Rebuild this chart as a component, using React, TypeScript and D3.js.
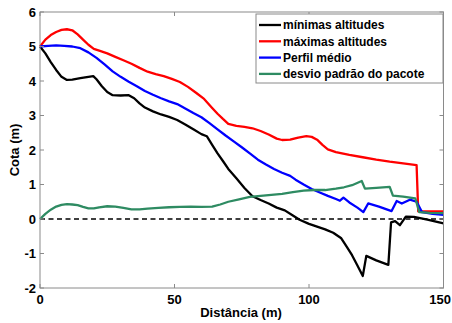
import React from "react";
import * as d3 from "d3";

const xTicks = [0, 50, 100, 150];
const yTicks = [-2, -1, 0, 1, 2, 3, 4, 5, 6];

const minX = [0,2,4,6,8,10,12,15,18,19.8,21,23,25,27,30,33,35,37,39,42,45,48,51,54,57,60,62,64,66,68,70,73,76,79,82,85,88,91,94,96.5,100,103,106,109,112,114,116,118,120,121.3,125,129.5,130.5,132,133.8,136,139,144,150];
const minY = [5.0,4.8,4.55,4.32,4.12,4.03,4.04,4.08,4.12,4.14,4.05,3.85,3.68,3.59,3.58,3.59,3.5,3.35,3.23,3.12,3.03,2.96,2.87,2.74,2.6,2.46,2.4,2.15,1.9,1.68,1.45,1.18,0.9,0.66,0.55,0.45,0.33,0.25,0.1,-0.02,-0.14,-0.22,-0.3,-0.4,-0.56,-0.8,-1.05,-1.35,-1.65,-1.07,-1.2,-1.33,-0.1,-0.06,-0.18,0.07,0.06,-0.02,-0.13];

const maxX = [0,2,4,6,8,10,12,14,16,18,20,22,25,28,31,34,37,40,43,46,49,52,55,58,61,64,66,68,70,73,76,79,82,85,88,90,93,96,99,101,103,105,107,110,115,120,125,130,135,140,140.6,150];
const maxY = [5.0,5.2,5.33,5.42,5.48,5.5,5.47,5.35,5.2,5.05,4.93,4.88,4.8,4.7,4.6,4.5,4.38,4.27,4.2,4.14,4.06,3.97,3.83,3.66,3.48,3.22,3.05,2.9,2.76,2.7,2.67,2.63,2.55,2.45,2.33,2.29,2.3,2.36,2.4,2.38,2.3,2.15,2.02,1.94,1.86,1.79,1.72,1.66,1.61,1.56,0.22,0.22];

const meanX = [0,3,6,9,12,15,18,21,24,27,30,33,36,39,42,45,48,51,54,57,60,63,66,69,72,75,78,81,84,87,90,93,95,98,101,104,107,110,111.5,112.8,115,118,120.2,122,126,130.7,132.6,134.5,137.5,140,142,146,150];
const meanY = [5.0,5.02,5.03,5.02,5.0,4.95,4.83,4.67,4.48,4.28,4.12,3.98,3.85,3.71,3.6,3.5,3.41,3.33,3.2,3.07,2.95,2.78,2.6,2.42,2.25,2.08,1.9,1.72,1.58,1.45,1.34,1.25,1.14,1.0,0.87,0.77,0.67,0.58,0.53,0.62,0.48,0.33,0.2,0.45,0.36,0.23,0.52,0.45,0.56,0.5,0.2,0.15,0.12];

const sdX = [0,2,4,6,8,10,12,14,16,18,20,22,25,28,31,34,37,40,44,48,52,56,60,64,67,70,74,78,82,86,90,94,98,102,106,110,113,116,119.6,120.8,125,130,131.2,135,139.5,141,145,150];
const sdY = [0,0.15,0.27,0.36,0.41,0.43,0.42,0.4,0.35,0.31,0.31,0.34,0.37,0.36,0.32,0.28,0.28,0.3,0.32,0.34,0.35,0.36,0.35,0.36,0.42,0.5,0.57,0.64,0.67,0.7,0.73,0.78,0.82,0.84,0.84,0.88,0.92,0.98,1.1,0.88,0.9,0.93,0.68,0.65,0.6,0.2,0.18,0.17];

const seriesNames = ["mínimas altitudes", "máximas altitudes", "Perfil médio", "desvio padrão do pacote"];
const seriesColors = ["#000000", "#ff0000", "#0000ff", "#2e8b62"];

export default function App() {
  const L = 40, R = 443.5, T = 12, B = 288;
  const x = d3.scaleLinear().domain([0, 150]).range([L, R]);
  const y = d3.scaleLinear().domain([-2, 6]).range([B, T]);
  const line = d3.line<[number, number]>().x(d => x(d[0])).y(d => y(d[1]));
  const zip = (a: number[], b: number[]) => a.map((v, i) => [v, b[i]] as [number, number]);
  const series = [zip(minX, minY), zip(maxX, maxY), zip(meanX, meanY), zip(sdX, sdY)];
  const font = "Liberation Sans, Arial, sans-serif";
  const axisColor = "#8a8a8a";
  const legX = 256, legY = 14, legW = 187, legH = 69;
  return (
    <svg width={452} height={323} style={{ position: "absolute", left: 0, top: 0, background: "#fff" }} fontFamily={font}>
      <rect x={0} y={0} width={452} height={323} fill="#fff" />
      <line x1={x(0)} x2={x(150)} y1={y(0)} y2={y(0)} stroke="#000" strokeWidth={1.6} strokeDasharray="5,3.5" />
      {series.map((s, i) => (
        <path key={i} d={line(s) || ""} fill="none" stroke={seriesColors[i]} strokeWidth={2.3} strokeLinejoin="round" />
      ))}
      <rect x={L} y={T} width={R - L} height={B - T} fill="none" stroke={axisColor} strokeWidth={1} />
      {xTicks.map((t, i) => {
        const last = i === xTicks.length - 1;
        return (
          <g key={"x" + t}>
            <line x1={x(t)} x2={x(t)} y1={B} y2={B - 4} stroke={axisColor} />
            <line x1={x(t)} x2={x(t)} y1={T} y2={T + 4} stroke={axisColor} />
            <text x={last ? 451 : x(t)} y={304} textAnchor={last ? "end" : "middle"} fontSize={13} fontWeight="bold">{t}</text>
          </g>
        );
      })}
      {yTicks.map(t => (
        <g key={"y" + t}>
          <line x1={L} x2={L + 4} y1={y(t)} y2={y(t)} stroke={axisColor} />
          <line x1={R} x2={R - 4} y1={y(t)} y2={y(t)} stroke={axisColor} />
          <text x={36} y={y(t) + 4.5} textAnchor="end" fontSize={13} fontWeight="bold">{t}</text>
        </g>
      ))}
      <text x={241} y={317} textAnchor="middle" fontSize={13} fontWeight="bold">Distância (m)</text>
      <text transform={`translate(19,150) rotate(-90)`} textAnchor="middle" fontSize={13} fontWeight="bold">Cota (m)</text>
      <rect x={legX} y={legY} width={legW} height={legH} fill="#fff" stroke={axisColor} strokeWidth={1} />
      {seriesNames.map((n, i) => {
        const ly = 25 + i * 16.3;
        return (
          <g key={n}>
            <line x1={259} x2={281} y1={ly} y2={ly} stroke={seriesColors[i]} strokeWidth={2.3} />
            <text x={283} y={ly + 4.3} fontSize={12} fontWeight="bold">{n}</text>
          </g>
        );
      })}
    </svg>
  );
}
